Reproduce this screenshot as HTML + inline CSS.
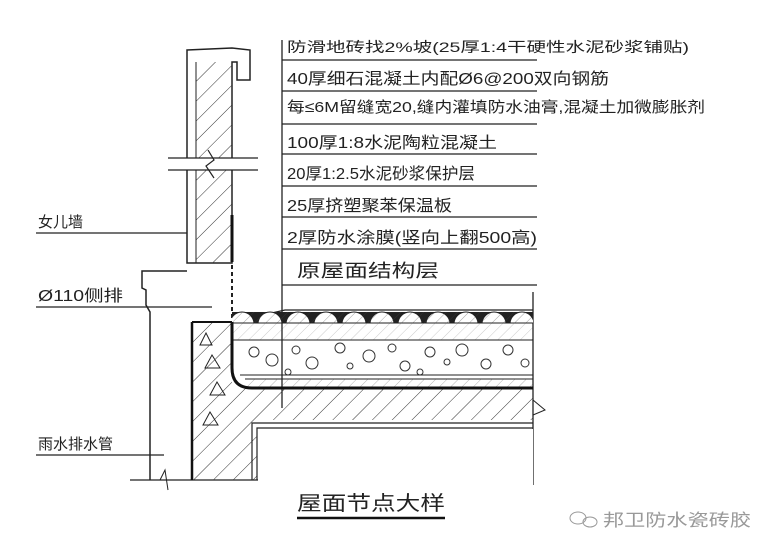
<!DOCTYPE html>
<html><head><meta charset="utf-8"><style>
html,body{margin:0;padding:0;background:#fff;}
svg{display:block;font-family:"Liberation Sans","Noto Sans CJK SC",sans-serif;}
</style></head><body>
<svg width="762" height="551" viewBox="0 0 762 551" xmlns="http://www.w3.org/2000/svg">
<defs>
<pattern id="h" width="14" height="14" patternUnits="userSpaceOnUse" patternTransform="rotate(45)">
<line x1="0" y1="0" x2="0" y2="14" stroke="#333" stroke-width="1"/>
</pattern>
<pattern id="h2" width="8" height="8" patternUnits="userSpaceOnUse" patternTransform="rotate(45)">
<line x1="0" y1="0" x2="0" y2="8" stroke="#444" stroke-width="0.8"/>
</pattern>
<clipPath id="tiles"><rect x="232" y="311" width="301" height="12"/></clipPath>
</defs>
<g stroke="#222" fill="none" stroke-width="1.3">
<!-- right label lines -->
<line x1="282" y1="40" x2="282" y2="408"/>
<line x1="282" y1="60" x2="537" y2="60"/>
<line x1="282" y1="91" x2="537" y2="91"/>
<line x1="282" y1="124" x2="537" y2="124"/>
<line x1="282" y1="154" x2="537" y2="154"/>
<line x1="282" y1="186" x2="537" y2="186"/>
<line x1="282" y1="217" x2="537" y2="217"/>
<line x1="282" y1="249" x2="537" y2="249"/>
<line x1="282" y1="285" x2="537" y2="285"/>
<line x1="533" y1="292" x2="533" y2="485"/>
<!-- left labels -->
<line x1="36" y1="233" x2="213" y2="233"/>
<line x1="36" y1="307" x2="212" y2="307"/>
<line x1="36" y1="455" x2="164" y2="455"/>
</g>
<!-- parapet -->
<path d="M187,50 L232,48 L250,50 L250,80 L237,80 L237,62 L232,62 L232,263 L187,263 Z" fill="#fff" stroke="#222" stroke-width="1.5"/>
<rect x="196" y="62" width="36" height="201" fill="url(#h)"/>
<line x1="196" y1="62" x2="196" y2="263" stroke="#222" stroke-width="1"/>
<line x1="232" y1="215" x2="232" y2="262" stroke="#111" stroke-width="3"/>
<rect x="168" y="158" width="90" height="12" fill="#fff"/>
<line x1="168" y1="158" x2="258" y2="158" stroke="#222" stroke-width="1.2"/>
<line x1="168" y1="170" x2="258" y2="170" stroke="#222" stroke-width="1.2"/>
<path d="M208,150 L214,160 L206,166 L214,178" stroke="#222" fill="none" stroke-width="1.2"/>
<line x1="232" y1="265" x2="232" y2="322" stroke="#222" stroke-width="2" stroke-dasharray="4,3"/>
<!-- pipe -->
<path d="M187,271 L142,271 L142,288 L146,290 L146,305 L150,312 L150,480" stroke="#222" fill="none" stroke-width="1.5"/>
<line x1="130" y1="480" x2="290" y2="480" stroke="#222" stroke-width="1.2"/>
<path d="M160,480 L165,470 L168,490" stroke="#222" fill="none"/>
<!-- lower wall + slab hatch -->
<path d="M192,322 L232,322 L232,388 L533,388 L533,420 L257,420 L257,480 L192,480 Z" fill="url(#h)" stroke="none"/>
<line x1="192" y1="322" x2="192" y2="480" stroke="#111" stroke-width="2.5"/>
<line x1="192" y1="322" x2="232" y2="322" stroke="#111" stroke-width="2"/>
<polygon points="200,345 212,345 206,333" fill="none" stroke="#222"/>
<polygon points="205,368 220,368 212,355" fill="none" stroke="#222"/>
<polygon points="210,395 225,395 217,382" fill="none" stroke="#222"/>
<polygon points="203,425 218,425 210,412" fill="none" stroke="#222"/>
<!-- slab layers -->
<path d="M232,322 L285,310 L533,310" stroke="#222" fill="none" stroke-width="1.3"/>
<rect x="232" y="312" width="301" height="11" fill="#fff"/>
<g clip-path="url(#tiles)">
<rect x="232" y="312" width="301" height="11" fill="#222"/>
<g fill="#fff" stroke="#222">
<circle cx="270" cy="324" r="12"/><circle cx="298" cy="324" r="12"/><circle cx="326" cy="324" r="12"/><circle cx="354" cy="324" r="12"/><circle cx="382" cy="324" r="12"/><circle cx="410" cy="324" r="12"/><circle cx="438" cy="324" r="12"/><circle cx="466" cy="324" r="12"/><circle cx="494" cy="324" r="12"/><circle cx="522" cy="324" r="12"/><circle cx="550" cy="324" r="12"/><circle cx="242" cy="324" r="12"/>
</g>
<rect x="232" y="312" width="301" height="11" fill="url(#h2)" opacity="0.6"/>
</g>
<line x1="232" y1="323" x2="533" y2="323" stroke="#222"/>
<rect x="232" y="323" width="301" height="17" fill="url(#h2)" opacity="0.35"/>
<line x1="232" y1="340" x2="533" y2="340" stroke="#222"/>
<g fill="none" stroke="#333" stroke-width="1">
<circle cx="254" cy="352" r="5"/><circle cx="272" cy="360" r="6"/><circle cx="296" cy="350" r="4"/><circle cx="312" cy="363" r="6"/><circle cx="340" cy="348" r="5"/><circle cx="350" cy="366" r="3"/><circle cx="369" cy="356" r="6"/><circle cx="392" cy="348" r="4"/><circle cx="405" cy="366" r="5"/><circle cx="430" cy="352" r="5"/><circle cx="447" cy="362" r="3"/><circle cx="462" cy="350" r="6"/><circle cx="486" cy="364" r="5"/><circle cx="508" cy="350" r="5"/><circle cx="525" cy="363" r="4"/><circle cx="288" cy="372" r="3"/><circle cx="420" cy="372" r="3"/>
</g>
<line x1="240" y1="375" x2="533" y2="375" stroke="#222"/>
<line x1="245" y1="379" x2="533" y2="379" stroke="#222"/>
<rect x="245" y="379" width="288" height="8" fill="url(#h2)" opacity="0.5"/>
<path d="M232,322 L232,368 Q232,388 252,388 L533,388" stroke="#111" fill="none" stroke-width="3"/>
<path d="M533,400 L545,410 L533,415" stroke="#222" fill="none"/>
<!-- ceiling -->
<path d="M252,480 L252,423 L533,423" stroke="#222" fill="none" stroke-width="1.2"/>
<path d="M257,480 L257,428 L533,428" stroke="#222" fill="none" stroke-width="1.2"/>
<rect x="258" y="429" width="275" height="60" fill="#fff"/>
<!-- texts -->
<g fill="#222">
<text x="287" y="52" font-size="14" textLength="402" lengthAdjust="spacingAndGlyphs">防滑地砖找2%坡(25厚1:4干硬性水泥砂浆铺贴)</text>
<text x="287" y="84" font-size="16" textLength="322" lengthAdjust="spacingAndGlyphs">40厚细石混凝土内配Ø6@200双向钢筋</text>
<text x="287" y="112" font-size="15" textLength="418" lengthAdjust="spacingAndGlyphs">每≤6M留缝宽20,缝内灌填防水油膏,混凝土加微膨胀剂</text>
<text x="287" y="148" font-size="16" textLength="210" lengthAdjust="spacingAndGlyphs">100厚1:8水泥陶粒混凝土</text>
<text x="287" y="179" font-size="16" textLength="188" lengthAdjust="spacingAndGlyphs">20厚1:2.5水泥砂浆保护层</text>
<text x="287" y="211" font-size="16" textLength="165" lengthAdjust="spacingAndGlyphs">25厚挤塑聚苯保温板</text>
<text x="287" y="243" font-size="16" textLength="250" lengthAdjust="spacingAndGlyphs">2厚防水涂膜(竖向上翻500高)</text>
<text x="297" y="277" font-size="18" textLength="142" lengthAdjust="spacingAndGlyphs">原屋面结构层</text>
<text x="38" y="227" font-size="15">女儿墙</text>
<text x="38" y="301" font-size="16" textLength="85" lengthAdjust="spacingAndGlyphs">Ø110侧排</text>
<text x="38" y="449" font-size="15">雨水排水管</text>
<text x="297" y="510" font-size="20" textLength="148" lengthAdjust="spacingAndGlyphs">屋面节点大样</text>
</g>
<line x1="297" y1="518" x2="445" y2="518" stroke="#111" stroke-width="2.5"/>
<g fill="none" stroke="#999" stroke-width="1">
<ellipse cx="578" cy="518" rx="8" ry="6"/><ellipse cx="590" cy="522" rx="7" ry="5"/>
</g>
<text x="603" y="526" font-size="17" fill="#999" textLength="148" lengthAdjust="spacingAndGlyphs">邦卫防水瓷砖胶</text>
</svg>
</body></html>
